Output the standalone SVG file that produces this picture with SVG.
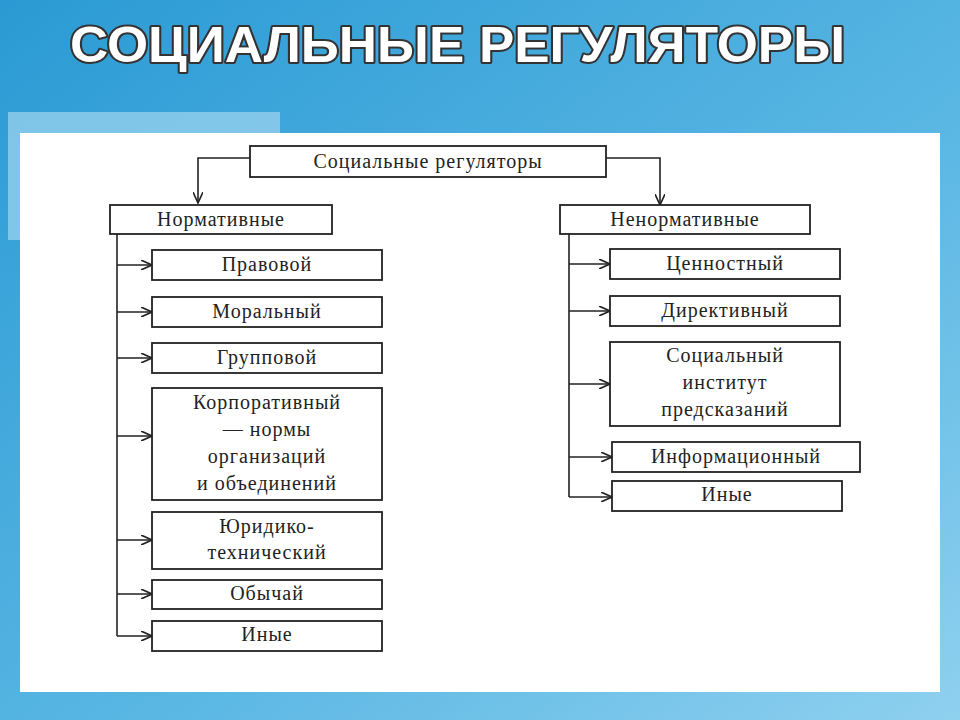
<svg xmlns="http://www.w3.org/2000/svg" width="960" height="720" viewBox="0 0 960 720">
<defs>
<linearGradient id="bg" x1="0" y1="0" x2="1" y2="1">
<stop offset="0" stop-color="#2a9ad4"/><stop offset="0.6" stop-color="#5cb8e4"/><stop offset="1" stop-color="#8fd0ef"/>
</linearGradient>
<marker id="ar" markerWidth="12" markerHeight="10" refX="11" refY="5" orient="auto" markerUnits="userSpaceOnUse">
<path d="M0,0 L11,5 L0,10" fill="none" stroke="#222" stroke-width="1.6"/>
</marker>
<style>
.b{fill:#fff;stroke:#222;stroke-width:1.8}
.t{font-family:"Liberation Serif",serif;font-size:20px;fill:#222;text-anchor:middle;letter-spacing:1px}
.c{fill:none;stroke:#222;stroke-width:1.6}
</style>
</defs>
<rect width="960" height="720" fill="url(#bg)"/>
<rect x="8" y="112" width="272" height="128" fill="#9fd6f0" opacity="0.7"/>
<rect x="20" y="133" width="920" height="559" fill="#fff"/>
<text x="70" y="62" font-family="Liberation Sans,sans-serif" font-size="50" font-weight="bold" fill="#fff" stroke="#333" stroke-width="4" paint-order="stroke" stroke-linejoin="round" textLength="775" lengthAdjust="spacingAndGlyphs">СОЦИАЛЬНЫЕ РЕГУЛЯТОРЫ</text>
<g id="connectors">
<path class="c" d="M250,158 H198 V203" marker-end="url(#ar)"/>
<path class="c" d="M606,158 H660 V205" marker-end="url(#ar)"/>
<path class="c" d="M117,234 V636"/>
<path class="c" d="M117,265 H152" marker-end="url(#ar)"/>
<path class="c" d="M117,312 H152" marker-end="url(#ar)"/>
<path class="c" d="M117,358 H152" marker-end="url(#ar)"/>
<path class="c" d="M117,436 H152" marker-end="url(#ar)"/>
<path class="c" d="M117,540 H152" marker-end="url(#ar)"/>
<path class="c" d="M117,594 H152" marker-end="url(#ar)"/>
<path class="c" d="M117,636 H152" marker-end="url(#ar)"/>
<path class="c" d="M569,234 V497"/>
<path class="c" d="M569,264 H610" marker-end="url(#ar)"/>
<path class="c" d="M569,311 H610" marker-end="url(#ar)"/>
<path class="c" d="M569,384 H610" marker-end="url(#ar)"/>
<path class="c" d="M569,457 H612" marker-end="url(#ar)"/>
<path class="c" d="M569,497 H612" marker-end="url(#ar)"/>
</g>
<g id="root"><rect class="b" x="250" y="146" width="356" height="31"/><text class="t" x="428" y="168">Социальные регуляторы</text></g>
<g id="norm"><rect class="b" x="110" y="205" width="222" height="29"/><text class="t" x="221" y="226">Нормативные</text></g>
<g id="nenorm"><rect class="b" x="560" y="205" width="250" height="29"/><text class="t" x="685" y="226">Ненормативные</text></g>
<g id="n1"><rect class="b" x="152" y="250" width="230" height="30"/><text class="t" x="267" y="271">Правовой</text></g>
<g id="n2"><rect class="b" x="152" y="297" width="230" height="30"/><text class="t" x="267" y="318">Моральный</text></g>
<g id="n3"><rect class="b" x="152" y="343" width="230" height="30"/><text class="t" x="267" y="364">Групповой</text></g>
<g id="n4"><rect class="b" x="152" y="388" width="230" height="112"/><text class="t" x="267" y="409">Корпоративный</text><text class="t" x="267" y="436">— нормы</text><text class="t" x="267" y="463">организаций</text><text class="t" x="267" y="490">и объединений</text></g>
<g id="n5"><rect class="b" x="152" y="512" width="230" height="57"/><text class="t" x="267" y="533">Юридико-</text><text class="t" x="267" y="559">технический</text></g>
<g id="n6"><rect class="b" x="152" y="580" width="230" height="29"/><text class="t" x="267" y="600">Обычай</text></g>
<g id="n7"><rect class="b" x="152" y="621" width="230" height="30"/><text class="t" x="267" y="641">Иные</text></g>
<g id="r1"><rect class="b" x="610" y="249" width="230" height="30"/><text class="t" x="725" y="270">Ценностный</text></g>
<g id="r2"><rect class="b" x="610" y="296" width="230" height="30"/><text class="t" x="725" y="317">Директивный</text></g>
<g id="r3"><rect class="b" x="610" y="342" width="230" height="84"/><text class="t" x="725" y="362">Социальный</text><text class="t" x="725" y="389">институт</text><text class="t" x="725" y="416">предсказаний</text></g>
<g id="r4"><rect class="b" x="612" y="442" width="248" height="30"/><text class="t" x="736" y="463">Информационный</text></g>
<g id="r5"><rect class="b" x="612" y="481" width="230" height="30"/><text class="t" x="727" y="501">Иные</text></g>
</svg>
